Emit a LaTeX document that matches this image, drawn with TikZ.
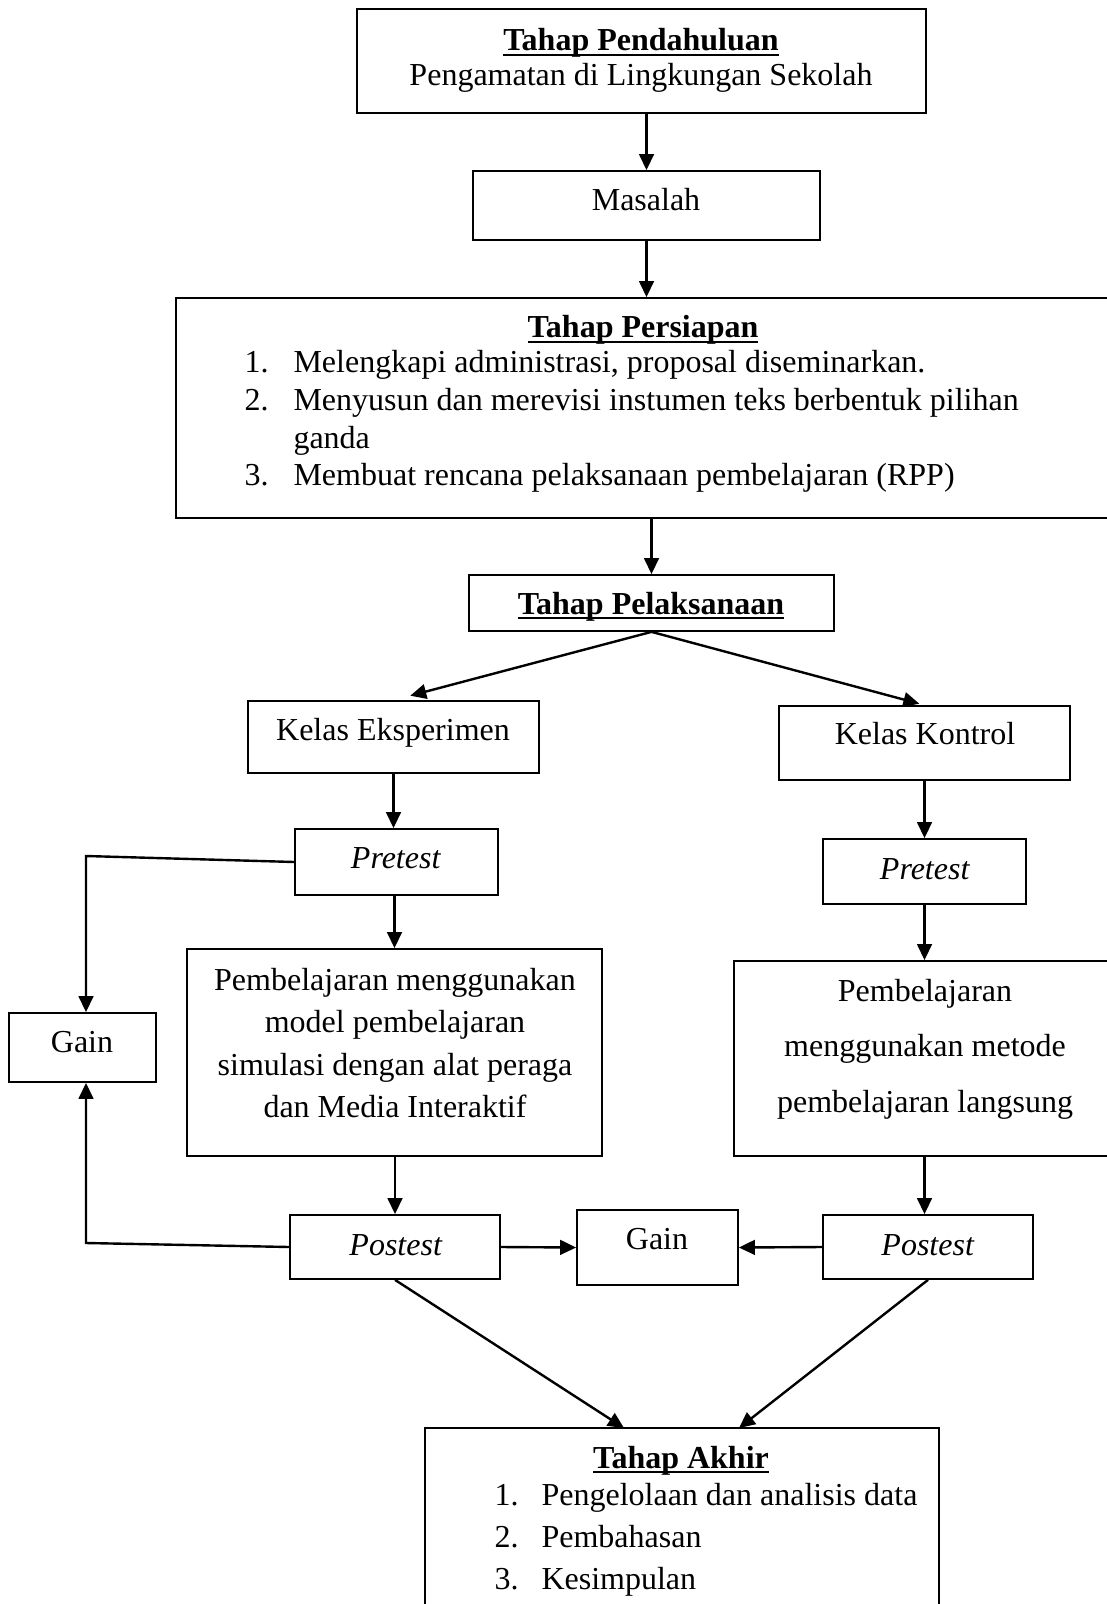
\documentclass[tikz,border=0pt]{standalone}
\usepackage{fontspec}
\setmainfont{Liberation Serif}
\usetikzlibrary{fit,arrows.meta}
\newcommand\myul[1]{\setbox0\hbox{#1}\rlap{\rule[-1.9pt]{\wd0}{0.75pt}}\box0}
\begin{document}
\begin{tikzpicture}[x=0.375pt,y=-0.375pt,
  box/.style={draw,line width=0.65pt,inner sep=0pt,rectangle},
  txt/.style={anchor=base,inner sep=0pt,font=\fontsize{12}{14}\selectfont},
  ltxt/.style={anchor=base west,inner sep=0pt,font=\fontsize{12}{14}\selectfont},
  arr/.style={line width=0.9pt,-{Triangle[length=6pt,width=5.5pt]}},
  ln/.style={line width=0.9pt}]
\useasboundingbox (0,0) rectangle (1106,1604);
% boxes
\node[box,fit={(357,9)(926,113)}] (pend) {};
\node[box,fit={(473,171)(820,240)}] (mas) {};
\node[box,fit={(176,298)(1112,518)}] (pers) {};
\node[box,fit={(469,575)(834,631)}] (pel) {};
\node[box,fit={(248,701)(539,773)}] (kelE) {};
\node[box,fit={(779,706)(1070,780)}] (kelK) {};
\node[box,fit={(295,829)(498,895)}] (pretL) {};
\node[box,fit={(823,839)(1026,904)}] (pretR) {};
\node[box,fit={(9,1013)(156,1082)}] (gainL) {};
\node[box,fit={(187,949)(602,1156)}] (pemL) {};
\node[box,fit={(734,961)(1112,1156)}] (pemR) {};
\node[box,fit={(290,1215)(500,1279)}] (postL) {};
\node[box,fit={(577,1210)(738,1285)}] (gainC) {};
\node[box,fit={(823,1215)(1033,1279)}] (postR) {};
\node[box,fit={(425,1428)(939,1612)}] (akhir) {};
% texts
\node[txt] (tpend) at (641,51) {\myul{\textbf{Tahap Pendahuluan}}};
\node[txt] (tpeng) at (641,86) {Pengamatan di Lingkungan Sekolah};
\node[txt] (tmas) at (646,211) {Masalah};
\node[txt] (tpers) at (643,338) {\myul{\textbf{Tahap Persiapan}}};
\node[ltxt] (n1) at (244,373) {1.};
\node[ltxt] (p1) at (293,373) {Melengkapi administrasi, proposal diseminarkan.};
\node[ltxt] (n2) at (244,411) {2.};
\node[ltxt] (p2) at (293,411) {Menyusun dan merevisi instumen teks berbentuk pilihan};
\node[ltxt] (p2b) at (293,448) {ganda};
\node[ltxt] (n3) at (244,485) {3.};
\node[ltxt] (p3) at (293,485) {Membuat rencana pelaksanaan pembelajaran (RPP)};
\node[txt] (tpel) at (651,614) {\myul{\textbf{Tahap Pelaksanaan}}};
\node[txt] (tkelE) at (393,740) {Kelas Eksperimen};
\node[txt] (tkelK) at (925,744) {Kelas Kontrol};
\node[txt] (tpretL) at (396,868) {\textit{Pretest}};
\node[txt] (tpretR) at (925,879) {\textit{Pretest}};
\node[txt] (tgainL) at (82,1052) {Gain};
\node[txt] (l1) at (395,990) {Pembelajaran menggunakan};
\node[txt] (l2) at (395,1032) {model pembelajaran};
\node[txt] (l3) at (395,1075) {simulasi dengan alat peraga};
\node[txt] (l4) at (395,1117) {dan Media Interaktif};
\node[txt] (r1) at (925,1001) {Pembelajaran};
\node[txt] (r2) at (925,1056) {menggunakan metode};
\node[txt] (r3) at (925,1112) {pembelajaran langsung};
\node[txt] (tpostL) at (396,1255) {\textit{Postest}};
\node[txt] (tgainC) at (657,1249) {Gain};
\node[txt] (tpostR) at (928,1255) {\textit{Postest}};
\node[txt] (takhir) at (681,1468) {\myul{\textbf{Tahap Akhir}}};
\node[ltxt] (m1) at (494,1505) {1.};
\node[ltxt] (a1t) at (541,1505) {Pengelolaan dan analisis data};
\node[ltxt] (m2) at (494,1547) {2.};
\node[ltxt] (a2t) at (541,1547) {Pembahasan};
\node[ltxt] (m3) at (494,1589) {3.};
\node[ltxt] (a3t) at (541,1589) {Kesimpulan};
% coordinates
\coordinate (c1) at (86,856);
\coordinate (c2) at (86,1243);
\coordinate (a1) at (624,1428);
\coordinate (a2) at (739,1428);
% connectors
\draw[arr] (mas.north |- pend.south) -- (mas.north);
\draw[arr] (mas.south) -- (mas.south |- pers.north);
\draw[arr] (pel.north |- pers.south) -- (pel.north);
\draw[arr,shorten >=6.5pt] (pel.south) -- (kelE.north);
\draw[arr,shorten >=2pt] (pel.south) -- (kelK.north);
\draw[arr] (kelE.south) -- (kelE.south |- pretL.north);
\draw[arr] (kelK.south) -- (kelK.south |- pretR.north);
\draw[arr] (pemL.north |- pretL.south) -- (pemL.north);
\draw[arr] (pretR.south) -- (pretR.south |- pemR.north);
\draw[arr] (postL.north |- pemL.south) -- (postL.north);
\draw[arr] (pretR.south |- pemR.south) -- (pretR.south |- postR.north);
\draw[arr] (pretL.west) -- (c1) -- (c1 |- gainL.north);
\draw[arr] (postL.west) -- (c2) -- (c2 |- gainL.south);
\draw[arr] (postL.east) -- (gainC.west);
\draw[arr] (postR.west) -- (gainC.east);
\draw[arr] (postL.south) -- (a1);
\draw[arr] (postR.south) -- (a2);
\end{tikzpicture}
\end{document}
